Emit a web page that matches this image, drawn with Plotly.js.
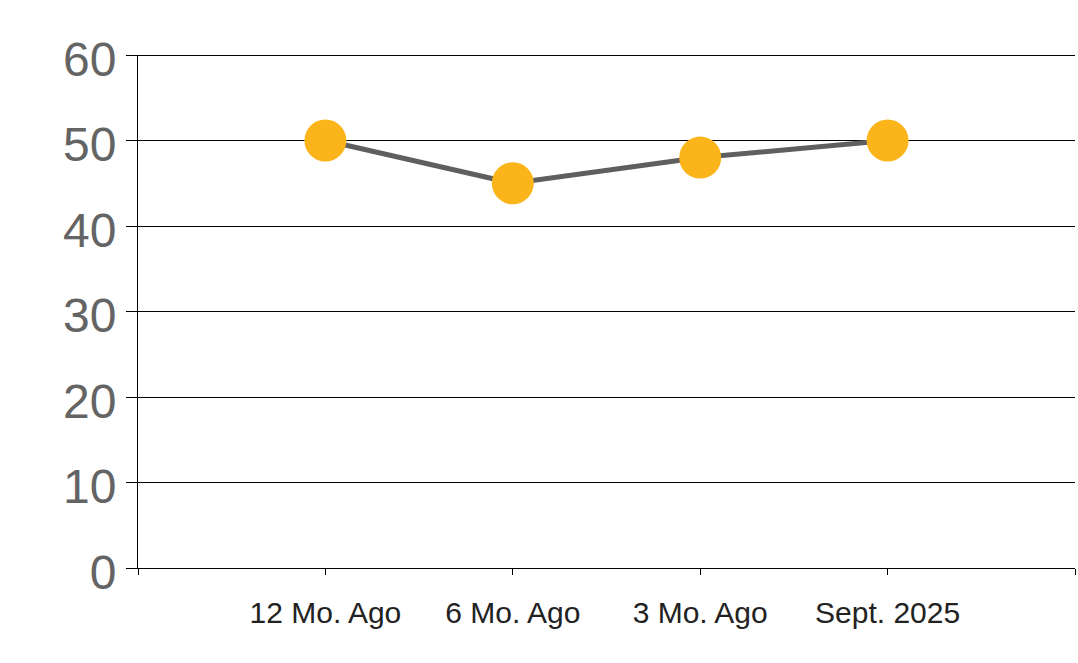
<!DOCTYPE html>
<html>
<head>
<meta charset="utf-8">
<script src="https://cdn.plot.ly/plotly-3.0.1.min.js"></script>
<style>html,body{margin:0;padding:0;background:#fff;}#chart{width:1078px;height:663px;}</style>
</head>
<body>
<div id="chart"></div>
<script>
const categories = ["12 Mo. Ago", "6 Mo. Ago", "3 Mo. Ago", "Sept. 2025"];
const values = [50, 45, 48, 50];
const yTicks = [0, 10, 20, 30, 40, 50, 60];

const xIdx = categories.map((c, i) => i);
const tickvals = [-1].concat(xIdx, [categories.length]);
const ticktext = [""].concat(categories, [""]);
const yMax = Math.max(...yTicks);

const W = 1078, H = 663, M = {l: 138, r: 3, t: 55, b: 95};
const halfPx = 0.5 * yMax / (H - M.t - M.b);

const trace = {
  x: xIdx,
  y: values,
  type: "scatter",
  mode: "lines+markers",
  line: {color: "#5f5f5f", width: 5},
  marker: {color: "#FBB41A", size: 42, line: {width: 0}},
  hoverinfo: "skip",
  cliponaxis: false
};

const layout = {
  width: W, height: H,
  margin: M,
  paper_bgcolor: "#fff", plot_bgcolor: "#fff",
  showlegend: false,
  font: {family: "Liberation Sans, Arial, sans-serif"},
  xaxis: {
    type: "linear",
    range: [-1, categories.length],
    tickvals: tickvals, ticktext: ticktext,
    showgrid: false, zeroline: false,
    showline: true, linecolor: "#000", linewidth: 1,
    ticks: "outside", ticklen: 6, tickcolor: "#000", tickwidth: 1,
    tickfont: {size: 30, color: "#222"},
    ticklabelstandoff: 12,
    fixedrange: true
  },
  yaxis: {
    range: [0, yMax],
    tickvals: yTicks,
    showgrid: true, gridcolor: "#000", gridwidth: 1,
    zeroline: false,
    showline: true, linecolor: "#000", linewidth: 1,
    ticks: "outside", ticklen: 11, tickcolor: "#000", tickwidth: 1,
    tickfont: {size: 48, color: "#646464"},
    ticklabelstandoff: 0,
    ticklabelshift: 4,
    fixedrange: true
  },
  shapes: [{
    type: "line", xref: "paper", yref: "y",
    x0: 0, x1: 1, y0: yMax - halfPx, y1: yMax - halfPx,
    line: {color: "#000", width: 1},
    layer: "below"
  }]
};

Plotly.newPlot("chart", [trace], layout, {staticPlot: true, displayModeBar: false});
</script>
</body>
</html>
